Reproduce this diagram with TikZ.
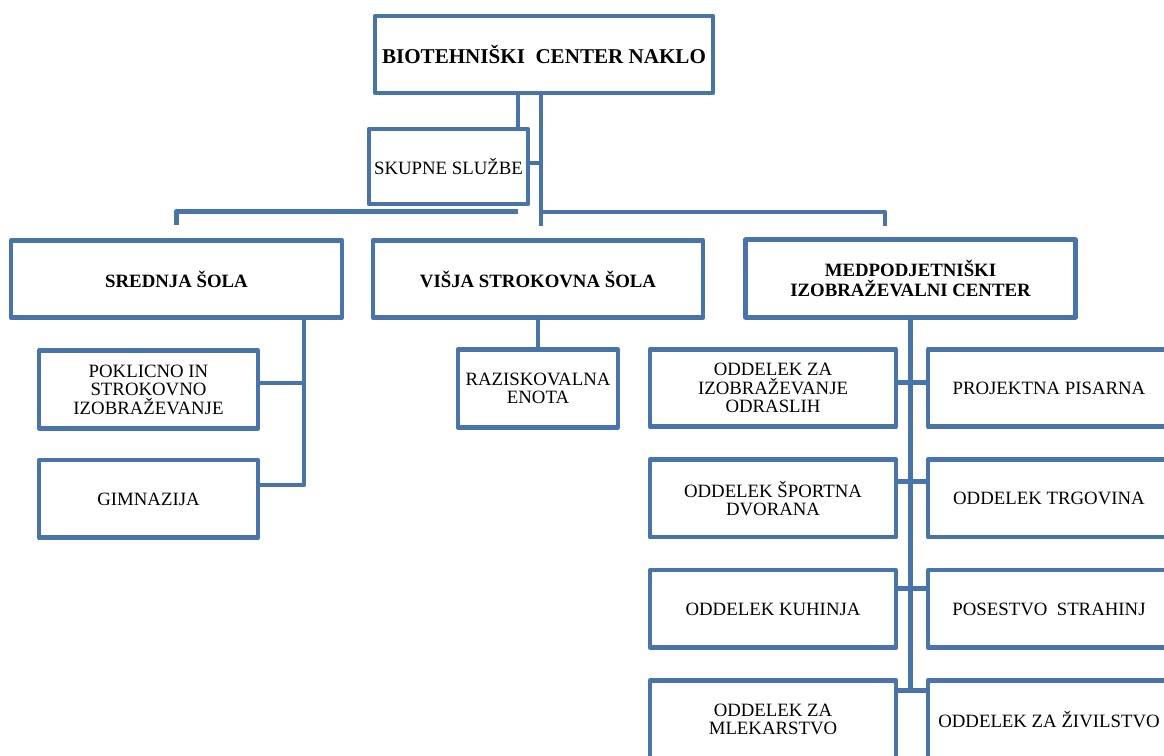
\documentclass[tikz,border=0pt]{standalone}
\usepackage{fontspec}
\setmainfont{Liberation Serif}
\usepackage{tikz}
\usetikzlibrary{positioning}
\definecolor{bcblue}{RGB}{72,116,170}
\tikzstyle{unit} = [rectangle, draw=bcblue, fill=white, line width=2.6pt, line join=round, minimum height=1.55cm, text centered, align=center, inner sep=1pt, outer sep=0pt, font=\fontsize{10.7}{10.5}\selectfont]
\tikzstyle{headunit} = [unit, font=\bfseries\fontsize{10.7}{11.4}\selectfont]
\tikzstyle{link} = [draw=bcblue, line width=2.6pt, line join=round]

\begin{document}
\begin{tikzpicture}[x=0.02cm, y=-0.02cm]
\useasboundingbox (0,0) rectangle (1164,756);
\clip (0,0) rectangle (1164,756);
% top level
\node[headunit, minimum width=6.76cm, minimum height=1.54cm, font=\bfseries\fontsize{12}{12}\selectfont] (bc) at (544,54.5) {BIOTEHNIŠKI\ \ CENTER NAKLO};
\node[unit, minimum width=3.18cm, minimum height=1.5cm] (skupne) at (448.5,166.5) {SKUPNE SLUŽBE};
% units
\node[headunit, minimum width=6.62cm] (ss) at (176.5,279) {SREDNJA ŠOLA};
\node[headunit, minimum width=6.6cm] (vss) at (538,279) {VIŠJA STROKOVNA ŠOLA};
\node[headunit, minimum width=6.6cm] (mic) at (910.5,278.5) {MEDPODJETNIŠKI\\IZOBRAŽEVALNI CENTER};
% srednja sola
\node[unit, minimum width=4.38cm, below=0.66cm of ss, xshift=-0.56cm] (pok) {POKLICNO IN\\STROKOVNO\\IZOBRAŽEVANJE};
\node[unit, minimum width=4.38cm, below=0.64cm of pok] (gimn) {GIMNAZIJA};
% visja strokovna sola
\node[unit, minimum width=3.2cm, below=0.64cm of vss] (razisk) {RAZISKOVALNA\\ENOTA};
% medpodjetniski center
\node[unit, minimum width=4.92cm, below=0.64cm of mic, xshift=-2.75cm] (ioa) {ODDELEK ZA\\IZOBRAŽEVANJE\\ODRASLIH};
\node[unit, minimum width=4.92cm, below=0.66cm of ioa] (sd) {ODDELEK ŠPORTNA\\DVORANA};
\node[unit, minimum width=4.92cm, below=0.66cm of sd] (kuh) {ODDELEK KUHINJA};
\node[unit, minimum width=4.92cm, below=0.66cm of kuh] (ml) {ODDELEK ZA\\MLEKARSTVO};
\node[unit, minimum width=4.84cm, right=0.64cm of ioa] (pp) {PROJEKTNA PISARNA};
\node[unit, minimum width=4.84cm, right=0.64cm of sd] (trg) {ODDELEK TRGOVINA};
\node[unit, minimum width=4.84cm, right=0.64cm of kuh] (pos) {POSESTVO\ \ STRAHINJ};
\node[unit, minimum width=4.84cm, right=0.64cm of ml] (ziv) {ODDELEK ZA ŽIVILSTVO};

% connectors
\coordinate (hub) at (541,212);
\draw[link] ([xshift=1.39cm]skupne.north) -- ([xshift=1.39cm]skupne.north |- bc.south);
\draw[link] (bc.south -| hub) -- ([yshift=-0.28cm]hub);
\draw[link] ([yshift=0.07cm]skupne.east) -- ([yshift=0.07cm]skupne.east -| hub);
\draw[link] (hub) -| ([xshift=-0.51cm, yshift=0.28cm]mic.north);
\draw[link] ([xshift=1.39cm, yshift=-0.15cm]skupne.south) -| ([yshift=0.3cm]ss.north);

\coordinate (ssbus) at ([xshift=2.55cm]ss.south);
\draw[link] (ssbus) |- ([yshift=0.28cm]gimn.east);
\draw[link] ([yshift=0.13cm]pok.east) -| (ssbus);

\draw[link] (vss.south) -- (razisk.north);

\coordinate (mlj) at ([yshift=0.58cm]ml.east);
\draw[link] (mic.south) -- (mic.south |- mlj);
\foreach \l/\r/\s in {ioa/pp/0.11, sd/trg/0.34, kuh/pos/0.41, ml/ziv/0.58}
  \draw[link] ([yshift=\s cm]\l.east) -- ([yshift=\s cm]\r.west);
\end{tikzpicture}
\end{document}
